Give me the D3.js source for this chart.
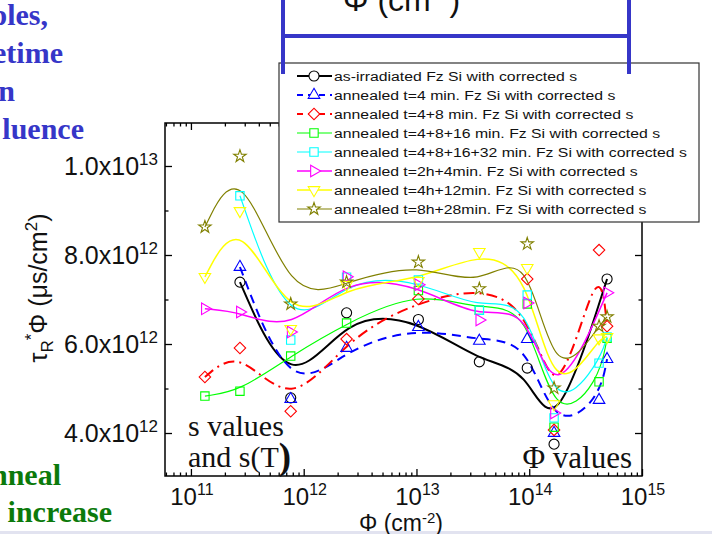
<!DOCTYPE html>
<html><head><meta charset="utf-8">
<script src="https://cdn.jsdelivr.net/npm/d3@7"></script>
<style>body{margin:0;background:#fff}svg{display:block}</style>
</head><body><svg id="c" width="712" height="534"></svg>
<script>
// ---- data ----
const fluence = [1.33e11, 2.72e11, 7.67e11, 2.40e12, 1.04e13, 3.61e13, 9.6e13, 1.66e14, 4.16e14, 4.9e14];
// tau_R*Phi in units of 1e12 us/cm^2 (null = no point)
const asIrradiated = [null, 7.39, 4.79, 6.70, 6.55, 5.60, 5.46, 3.75, null, 7.46];
const ann4   = [null, 7.73, 4.76, 5.91, 6.38, 6.07, 6.11, 4.00, 4.74, 5.66];
const ann12  = [5.26, 5.91, 4.49, 6.11, 7.01, null, 7.46, 4.07, 8.11, 6.40];
const ann28  = [4.83, 4.94, 5.73, 6.47, 7.20, 6.76, 6.90, 4.13, 5.15, 6.13];
const ann60  = [null, 9.33, 6.09, 7.50, 7.44, 6.76, 7.10, 4.34, 5.57, 6.16];
const ann2h4 = [6.79, 6.72, 6.27, 7.51, 7.33, 6.54, 6.92, 4.45, null, 7.15];
const ann4h12= [7.51, 8.99, 6.34, 7.33, 7.42, 8.07, 7.71, 4.65, 6.13, 6.16];
const ann8h28= [8.63, 10.22, 6.90, 7.39, 7.84, 7.24, 8.25, 5.01, 6.40, 6.61];
const seriesNames = [
  "as-irradiated Fz Si with corrected s",
  "annealed t=4 min. Fz Si with corrected s",
  "annealed t=4+8 min. Fz Si with corrected s",
  "annealed t=4+8+16 min. Fz Si with corrected s",
  "annealed t=4+8+16+32 min. Fz Si with corrected s",
  "annealed t=2h+4min. Fz Si with corrected s",
  "annealed t=4h+12min. Fz Si with corrected s",
  "annealed t=8h+28min. Fz Si with corrected s"
];
const seriesValues = [asIrradiated, ann4, ann12, ann28, ann60, ann2h4, ann4h12, ann8h28];
const yTicks = [4e12, 6e12, 8e12, 1e13];
const yTickMant = ["4.0x10", "6.0x10", "8.0x10", "1.0x10"];
const yTickExp = ["12", "12", "12", "13"];
const yMinor = [5e12, 7e12, 9e12];
const xTicks = [1e11, 1e12, 1e13, 1e14, 1e15];
const xTickExp = ["11", "12", "13", "14", "15"];

// ---- styles ----
const styles = [
  {c:"#000000", w:2,   dash:null,        sym:"circle"},
  {c:"#0000ff", w:2,   dash:"9,6",       sym:"triUp"},
  {c:"#ff0000", w:2,   dash:"11,5,2,5",  sym:"diamond"},
  {c:"#00ff00", w:1.2, dash:null,        sym:"square"},
  {c:"#00ffff", w:1.2, dash:null,        sym:"square"},
  {c:"#ff00ff", w:1.5, dash:null,        sym:"triRight"},
  {c:"#ffff00", w:1.5, dash:null,        sym:"triDown"},
  {c:"#808000", w:1.2, dash:null,        sym:"star"}
];

const svg = d3.select("#c");
const L = 165, R = 642, T = 123, B = 476;
const x = d3.scaleLog().domain([Math.pow(10, 10.77), 1e15]).range([L, R]);
const y = d3.scaleLinear().domain([3.034e12, 10.966e12]).range([B, T]);

// slide background text
const blue = "#3636c8", green = "#0b7a0b";
const leftTxt = svg.append("g").attr("font-family", "Liberation Serif, Times New Roman, serif")
  .attr("font-weight", "bold").attr("font-size", 30).attr("text-anchor", "end");
[["ples,", 48, 25], ["etime", 63, 63], ["n", 15, 101], ["luence", 84, 139]].forEach(d =>
  leftTxt.append("text").attr("x", d[1]).attr("y", d[2]).attr("fill", blue).text(d[0]));
[["nneal", 61, 485], ["increase", 112, 522]].forEach(d =>
  leftTxt.append("text").attr("x", d[1]).attr("y", d[2]).attr("fill", green).text(d[0]));

// top bracket
const tt = svg.append("text").attr("x", 343).attr("y", 11).attr("font-family", "Liberation Sans, Arial, sans-serif")
  .attr("font-size", 32).attr("fill", "#111");
tt.append("tspan").text("Φ (cm");
tt.append("tspan").attr("font-size", 21).attr("dy", -14).text("-2");
tt.append("tspan").attr("dy", 14).text(")");
svg.append("line").attr("x1", 282).attr("x2", 629).attr("y1", 36).attr("y2", 36).attr("stroke", blue).attr("stroke-width", 4);

// bottom slide edge
svg.append("rect").attr("x", 0).attr("y", 531).attr("width", 712).attr("height", 3).attr("fill", "#e2e3f0");

// clip
svg.append("clipPath").attr("id", "clip").append("rect").attr("x", L).attr("y", T).attr("width", R - L).attr("height", B - T);

// axes ticks (inward)
const minorX = [];
for (let e = 10; e <= 14; e++) for (let m = 2; m <= 9; m++) { const v = m * Math.pow(10, e); if (v >= x.domain()[0] && v <= 1e15) minorX.push(v); }
function axisStyle(g) { g.select(".domain").remove(); g.selectAll("line").attr("stroke", "#000").attr("stroke-width", 1.3); g.selectAll("text").remove(); }
svg.append("g").attr("transform", `translate(0,${B})`).call(d3.axisBottom(x).tickValues(xTicks).tickSize(-7)).call(axisStyle);
svg.append("g").attr("transform", `translate(0,${B})`).call(d3.axisBottom(x).tickValues(minorX).tickSize(-3.5)).call(axisStyle);
svg.append("g").attr("transform", `translate(0,${T})`).call(d3.axisTop(x).tickValues(xTicks).tickSize(-7)).call(axisStyle);
svg.append("g").attr("transform", `translate(0,${T})`).call(d3.axisTop(x).tickValues(minorX).tickSize(-3.5)).call(axisStyle);
svg.append("g").attr("transform", `translate(${L},0)`).call(d3.axisLeft(y).tickValues(yTicks).tickSize(-7)).call(axisStyle);
svg.append("g").attr("transform", `translate(${L},0)`).call(d3.axisLeft(y).tickValues(yMinor).tickSize(-3.5)).call(axisStyle);
svg.append("g").attr("transform", `translate(${R},0)`).call(d3.axisRight(y).tickValues(yTicks).tickSize(-7)).call(axisStyle);
svg.append("g").attr("transform", `translate(${R},0)`).call(d3.axisRight(y).tickValues(yMinor).tickSize(-3.5)).call(axisStyle);

// frame
svg.append("rect").attr("x", L).attr("y", T).attr("width", R - L).attr("height", B - T)
  .attr("fill", "none").attr("stroke", "#000").attr("stroke-width", 1.5);

// tick labels
const font = "Liberation Sans, Arial, sans-serif";
yTicks.forEach((v, i) => {
  const t = svg.append("text").attr("x", L - 7).attr("y", y(v) + 9).attr("text-anchor", "end")
    .attr("font-family", font).attr("font-size", 25).attr("fill", "#111");
  t.append("tspan").text(yTickMant[i]);
  t.append("tspan").attr("font-size", 17).attr("dy", -10).text(yTickExp[i]);
});
xTicks.forEach((v, i) => {
  const t = svg.append("text").attr("x", x(v) + 1).attr("y", 505).attr("text-anchor", "middle")
    .attr("font-family", font).attr("font-size", 24).attr("fill", "#111");
  t.append("tspan").text("10");
  t.append("tspan").attr("font-size", 16).attr("dy", -10).text(xTickExp[i]);
});

// axis titles
const xt = svg.append("text").attr("x", 401).attr("y", 531).attr("text-anchor", "middle")
  .attr("font-family", font).attr("font-size", 23).attr("fill", "#111");
xt.append("tspan").text("Φ (cm");
xt.append("tspan").attr("font-size", 15).attr("dy", -8).text("-2");
xt.append("tspan").attr("dy", 8).text(")");

const yt = svg.append("text").attr("transform", "translate(47,288) rotate(-90)").attr("text-anchor", "middle")
  .attr("font-family", font).attr("font-size", 25).attr("fill", "#111");
yt.append("tspan").text("τ");
yt.append("tspan").attr("font-size", 17).attr("dy", 6).text("R");
yt.append("tspan").attr("font-size", 17).attr("dy", -16).text("*");
yt.append("tspan").attr("dy", 10).text("Φ (μs/cm");
yt.append("tspan").attr("font-size", 17).attr("dy", -10).text("2");
yt.append("tspan").attr("dy", 10).text(")");

// symbols
function symPath(kind) {
  switch (kind) {
    case "circle": return {d: d3.symbol(d3.symbolCircle, 80)(), r: 0};
    case "triUp": return {d: d3.symbol(d3.symbolTriangle, 58)(), r: 0};
    case "triDown": return {d: d3.symbol(d3.symbolTriangle, 58)(), r: 180};
    case "triRight": return {d: d3.symbol(d3.symbolTriangle, 58)(), r: 90};
    case "square": return {d: d3.symbol(d3.symbolSquare, 70)(), r: 0};
    case "diamond": return {d: d3.symbol(d3.symbolSquare, 66)(), r: 45};
    case "star": return {d: d3.symbol(d3.symbolStar, 48)(), r: 0};
  }
}

// series
const plot = svg.append("g").attr("clip-path", "url(#clip)");
const line = d3.line().x(d => x(d[0])).y(d => y(d[1] * 1e12)).curve(d3.curveBasis);
seriesValues.forEach((vals, i) => {
  const st = styles[i];
  const pts = fluence.map((f, j) => [f, vals[j]]).filter(d => d[1] != null);
  plot.append("path").datum(pts).attr("d", line).attr("fill", "none")
    .attr("stroke", st.c).attr("stroke-width", st.w).attr("stroke-dasharray", st.dash);
});
seriesValues.forEach((vals, i) => {
  const st = styles[i];
  const sp = symPath(st.sym);
  const pts = fluence.map((f, j) => [f, vals[j]]).filter(d => d[1] != null);
  plot.selectAll(null).data(pts).join("path")
    .attr("transform", d => `translate(${x(d[0])},${y(d[1] * 1e12)}) rotate(${sp.r})`)
    .attr("d", sp.d).attr("fill", "none").attr("stroke", st.c).attr("stroke-width", 1.1);
});

// in-plot labels
const serif = "Liberation Serif, Times New Roman, serif";
svg.append("text").attr("x", 188).attr("y", 436).attr("font-family", serif).attr("font-size", 30).attr("fill", "#111").text("s values");
const st2 = svg.append("text").attr("x", 188).attr("y", 467).attr("font-family", serif).attr("font-size", 30).attr("fill", "#111");
st2.append("tspan").text("and s(T");
st2.append("tspan").attr("font-size", 37).attr("font-weight", "bold").attr("dy", 2).text(")");
svg.append("text").attr("x", 632).attr("y", 468).attr("text-anchor", "end").attr("font-family", serif).attr("font-size", 31).attr("fill", "#111").text("Φ values");

// legend
const lg = svg.append("g");
lg.append("rect").attr("x", 279).attr("y", 63).attr("width", 420).attr("height", 159)
  .attr("fill", "#fff").attr("stroke", "#333").attr("stroke-width", 1.2);
seriesNames.forEach((name, i) => {
  const st = styles[i];
  const yy = 76 + i * 19;
  lg.append("line").attr("x1", 297).attr("x2", 332).attr("y1", yy).attr("y2", yy)
    .attr("stroke", st.c).attr("stroke-width", st.w).attr("stroke-dasharray", st.dash ? "6,5" : null);
  const sp = symPath(st.sym);
  lg.append("path").attr("transform", `translate(314,${yy}) rotate(${sp.r})`).attr("d", sp.d)
    .attr("fill", "#fff").attr("stroke", st.c).attr("stroke-width", 1.1);
  lg.append("text").attr("transform", `translate(334,${yy + 5}) scale(1.17,1)`).attr("font-family", font).attr("font-size", 13.5)
    .attr("fill", "#111").text(name);
});

// bracket verticals (over legend top)
[283, 629].forEach(xx => svg.append("line").attr("x1", xx).attr("x2", xx).attr("y1", 0).attr("y2", 74)
  .attr("stroke", blue).attr("stroke-width", 4));
</script></body></html>
